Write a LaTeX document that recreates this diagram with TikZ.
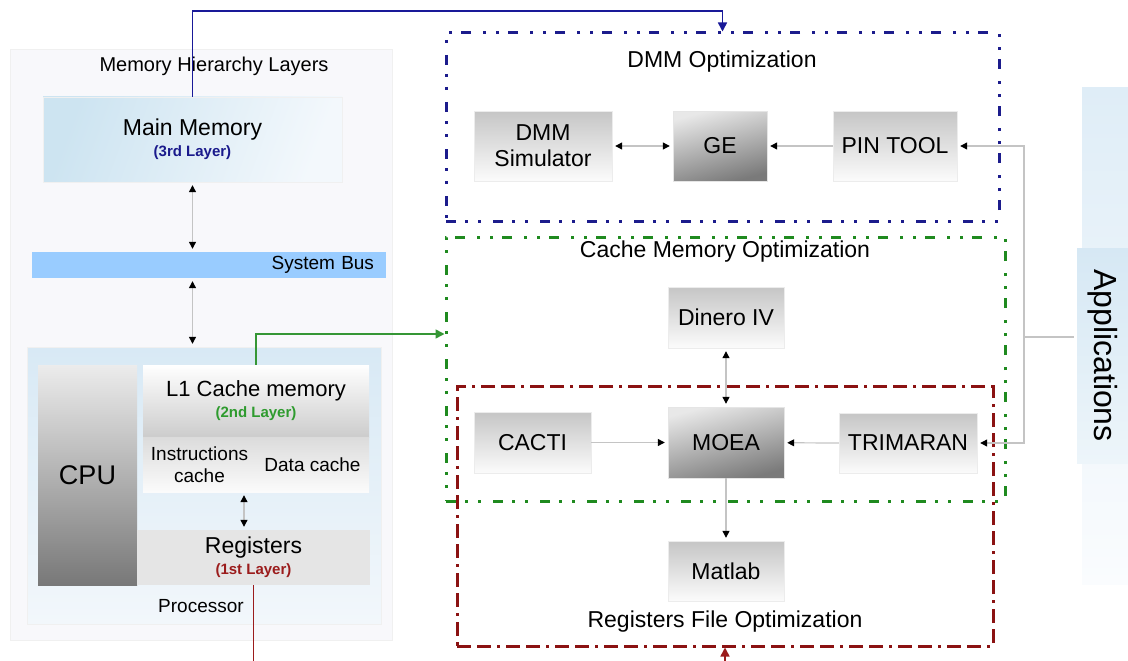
\documentclass[tikz,border=0pt]{standalone}
\usepackage{fontspec}
\setmainfont{Liberation Sans}
\usepackage{tikz}
\usetikzlibrary{arrows.meta}

\definecolor{navyln}{HTML}{1C1C8C}
\definecolor{greenln}{HTML}{1F8A1F}
\definecolor{redln}{HTML}{8B1212}
\definecolor{bluetxt}{HTML}{1A1A8C}
\definecolor{greentxt}{HTML}{2E9B2E}
\definecolor{redtxt}{HTML}{9B1C1C}
\definecolor{linkgray}{HTML}{C4C4C4}
\definecolor{busblue}{HTML}{99CCFF}
\definecolor{mmA}{HTML}{CDE4F1}
\definecolor{mmB}{HTML}{F3F8FC}
\definecolor{procA}{HTML}{D8E9F5}
\definecolor{procB}{HTML}{F2F7FB}
\definecolor{outerbg}{HTML}{F8F8FB}
\definecolor{appA}{HTML}{DFEDF7}
\definecolor{appB}{HTML}{FAFCFE}
\definecolor{appC}{HTML}{D6E8F4}
\definecolor{appD}{HTML}{EDF5FA}
\newcommand{\layerfont}{\fontsize{15}{17}\selectfont\bfseries}

\begin{document}
\begin{tikzpicture}[x=1pt,y=-1pt,
  every node/.style={inner sep=0pt},
  boxtxt/.style={font=\fontsize{23}{26}\selectfont},
  midtxt/.style={font=\fontsize{19}{22}\selectfont},
  tool/.style={boxtxt, draw=gray!15, top color=gray!45, bottom color=gray!3, align=center},
  tooldark/.style={boxtxt, draw=gray!20, top color=gray!18, bottom color=black!52, shading angle=15},
  optbox/.style={line width=3pt, dash pattern=on 10pt off 9pt on 3pt off 10pt on 3pt off 12pt},
  regdash/.style={line width=3pt, dash pattern=on 14pt off 6pt on 14pt off 6pt on 3pt off 6pt},
  link/.style={draw=linkgray, line width=1.2pt, >={Triangle[length=7pt,width=7pt,color=black]}, shorten >=3pt},
  twoway/.style={link, <->, shorten <=3pt},
  layerlink/.style={line width=1.6pt, -{Triangle[length=9pt,width=9pt]}}]
\useasboundingbox (0,0) rectangle (1128,661);

% memory hierarchy side
\node[draw=gray!12, fill=outerbg, minimum width=382pt, minimum height=591pt] (mhl) at (201,344.5) {};
\node[font=\fontsize{20}{22}\selectfont] (mhltitle) at (214,66) {Memory Hierarchy Layers};
\node[boxtxt, draw=gray!12, left color=mmA, right color=mmB, shading angle=70, minimum width=299pt, minimum height=85pt, align=center] (mm) at (192.5,139.5)
  {Main Memory\\[-5pt]{\layerfont\color{bluetxt}(3rd Layer)}};
\node[midtxt, fill=busblue, minimum width=354pt, minimum height=26pt, text width=330pt, align=right] (bus) at (209,265) {System Bus};
\node[draw=gray!12, top color=procA, bottom color=procB, minimum width=354pt, minimum height=277pt] (proc) at (204,485.5) {};
\node[midtxt] (proctxt) at (201,606) {Processor};
\node[top color=gray!15, bottom color=black!53, minimum width=99pt, minimum height=220pt, font=\fontsize{27}{30}\selectfont] (cpu) at (87.5,475) {CPU};
\node[top color=white, bottom color=gray!40, minimum width=226pt, minimum height=72pt, align=center, font=\fontsize{22}{25}\selectfont] (l1) at (256,401)
  {L1 Cache memory\\[-4pt]{\layerfont\color{greentxt}(2nd Layer)}};
\node[midtxt, top color=gray!28, bottom color=gray!3, minimum width=113pt, minimum height=55pt, align=center] (ic) at (199.5,464.5) {Instructions\\cache};
\node[midtxt, top color=gray!28, bottom color=gray!3, minimum width=113pt, minimum height=55pt] (dc) at (312.5,464.5) {Data cache};
\node[boxtxt, fill=gray!20, minimum width=233pt, minimum height=55pt, align=center] (reg) at (253.5,557.5)
  {Registers\\[-5pt]{\layerfont\color{redtxt}(1st Layer)}};

\coordinate (icx) at (244,0);
\draw[twoway] (mm.south) -- (mm.south |- bus.north);
\draw[twoway] (mm.south |- bus.south) -- (mm.south |- proc.north);
\draw[twoway] (icx |- ic.south) -- (icx |- reg.north);

% optimization boxes
\node[draw=navyln, optbox, minimum width=553pt, minimum height=188pt] (dmm) at (722.5,127) {};
\node[boxtxt] (dmmtitle) at (722,62) {DMM Optimization};
\node[draw=greenln, optbox, minimum width=559pt, minimum height=264pt] (cmo) at (725.5,369) {};
\node[boxtxt] (cmotitle) at (725,252) {Cache Memory Optimization};
\node[draw=redln, regdash, minimum width=536pt, minimum height=260pt] (rfo) at (725,516) {};
\node[boxtxt] (rfotitle) at (725,622) {Registers File Optimization};

\node[tool, minimum width=138pt, minimum height=70pt] (dsim) at (543,146) {DMM\\Simulator};
\node[tooldark, minimum width=94pt, minimum height=70pt] (ge) at (720,146) {GE};
\node[tool, minimum width=124pt, minimum height=70pt] (pin) at (895,146) {PIN TOOL};
\node[tool, minimum width=116pt, minimum height=61pt] (din) at (726,317.5) {Dinero IV};
\node[tooldark, minimum width=116pt, minimum height=71pt] (moea) at (726,442.5) {MOEA};
\node[tool, minimum width=117pt, minimum height=61pt] (cacti) at (532.5,442.5) {CACTI};
\node[tool, minimum width=138pt, minimum height=60pt] (trim) at (908,443) {TRIMARAN};
\node[tool, minimum width=116pt, minimum height=60pt] (mat) at (726,571) {Matlab};

\draw[twoway] (dsim) -- (ge);
\draw[link, ->] (pin) -- (ge);
\draw[twoway] (din) -- (moea);
\draw[link, ->] (cacti) -- (moea);
\draw[link, ->] (trim.west) -- (moea);
\draw[link, ->] (moea) -- (mat);

% applications
\fill[top color=appA, bottom color=appB] (1082,88) rectangle (1128,584);
\node[top color=appC, bottom color=appD, minimum width=215pt, minimum height=51pt, rotate=-90, font=\fontsize{32}{34}\selectfont] (apps) at (1102.5,355.5) {Applications};
\coordinate (abend) at (1024,337);
\draw[link] (abend) -- (abend -| apps.south);
\draw[link, ->] (abend) |- (pin.east);
\draw[link, ->] (abend) |- (trim.east);

% layer links
\coordinate (bturn) at (192.5,11);
\draw[layerlink, draw=blue!55!black!90] (mm.north) -- (bturn) -| (dmm.north);
\coordinate (gturn) at (256,334);
\draw[layerlink, draw=greenln!90!white] (l1.north) -- (gturn) -- (gturn -| cmo.west);
\draw[layerlink, draw=redtxt] (reg.south) -- ++(0,120) -| (rfo.south);
\end{tikzpicture}
\end{document}
